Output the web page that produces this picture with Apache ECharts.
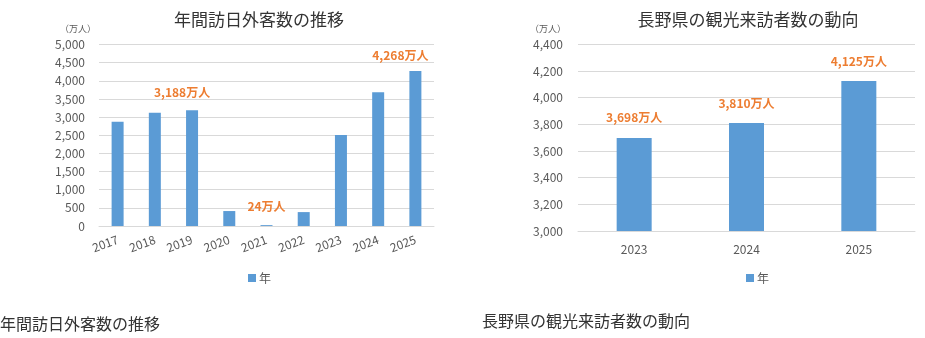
<!DOCTYPE html>
<html>
<head>
<meta charset="utf-8">
<script src="https://cdn.jsdelivr.net/npm/echarts@6/dist/echarts.min.js"></script>
<style>
  html, body { margin: 0; padding: 0; background: #fff; }
  #chart { width: 925px; height: 338px; }
</style>
</head>
<body>
<div id="chart"></div>
<script>
// 年間訪日外客数（万人）
const inboundYears = ['2017', '2018', '2019', '2020', '2021', '2022', '2023', '2024', '2025'];
const inboundValues = [2869, 3119, 3188, 412, 24, 383, 2507, 3687, 4268];
// 値ラベルを表示する年と、ラベルの位置調整 [x, y]
const inboundLabelled = { '2019': [-10, -4], '2021': [0, -5], '2025': [-15, -2] };

// 長野県の観光来訪者数（万人）
const naganoYears = ['2023', '2024', '2025'];
const naganoValues = [3698, 3810, 4125];

const FONT = '"Noto Sans CJK JP", "Noto Sans", sans-serif';
const BAR = '#5B9BD5';
const ORANGE = '#ED7D31';
const GRID = '#D9D9D9';
const AXIS_TEXT = '#595959';

const comma = v => String(v).replace(/\B(?=(\d{3})+(?!\d))/g, ',');
const manLabel = p => comma(p.value) + '万人';

const valueLabelStyle = {
  color: ORANGE, fontFamily: FONT, fontSize: 12, fontWeight: 'bold'
};

const inboundData = inboundYears.map((y, i) => {
  const off = inboundLabelled[y];
  if (!off) return { value: inboundValues[i] };
  return {
    value: inboundValues[i],
    label: Object.assign({
      show: true, position: 'top', distance: 8, offset: off, formatter: manLabel
    }, valueLabelStyle)
  };
});

const chart = echarts.init(document.getElementById('chart'), null, { renderer: 'canvas' });

const yLabel = { color: AXIS_TEXT, fontFamily: FONT, fontSize: 12, formatter: v => comma(v) };

chart.setOption({
  animation: false,
  backgroundColor: '#fff',
  title: [
    { text: '年間訪日外客数の推移', left: 254, top: 6, textAlign: 'center',
      textStyle: { fontFamily: FONT, fontSize: 17, fontWeight: 'normal', color: '#333' } },
    { text: '長野県の観光来訪者数の動向', left: 743, top: 6, textAlign: 'center',
      textStyle: { fontFamily: FONT, fontSize: 17, fontWeight: 'normal', color: '#333' } }
  ],
  legend: [
    { data: ['年'], left: 243, top: 267, itemWidth: 8, itemHeight: 8, itemGap: 4,
      icon: 'rect', textStyle: { fontFamily: FONT, fontSize: 12, color: AXIS_TEXT, padding: [0, 0, 0, -2] } },
    { data: ['年'], left: 741, top: 267, itemWidth: 8, itemHeight: 8, itemGap: 4,
      icon: 'rect', textStyle: { fontFamily: FONT, fontSize: 12, color: AXIS_TEXT, padding: [0, 0, 0, -2] } }
  ],
  grid: [
    { left: 99, right: 491, top: 44.5, bottom: 112 },
    { left: 578, right: 10, top: 44.3, bottom: 107 }
  ],
  xAxis: [
    { type: 'category', gridIndex: 0, data: inboundYears,
      axisLine: { lineStyle: { color: GRID } }, axisTick: { show: false },
      axisLabel: { color: AXIS_TEXT, fontFamily: FONT, fontSize: 12, rotate: 20, margin: 13, interval: 0 } },
    { type: 'category', gridIndex: 1, data: naganoYears,
      axisLine: { lineStyle: { color: GRID } }, axisTick: { show: false },
      axisLabel: { color: AXIS_TEXT, fontFamily: FONT, fontSize: 12, margin: 12 } }
  ],
  yAxis: [
    { type: 'value', gridIndex: 0, min: 0, max: 5000, interval: 500,
      axisLine: { show: false }, axisTick: { show: false },
      splitLine: { lineStyle: { color: GRID } },
      axisLabel: Object.assign({ margin: 14 }, yLabel) },
    { type: 'value', gridIndex: 1, min: 3000, max: 4400, interval: 200,
      axisLine: { show: false }, axisTick: { show: false },
      splitLine: { lineStyle: { color: GRID } },
      axisLabel: Object.assign({ margin: 15 }, yLabel) }
  ],
  series: [
    { name: '年', type: 'bar', xAxisIndex: 0, yAxisIndex: 0, data: inboundData,
      barWidth: 12, itemStyle: { color: BAR } },
    { name: '年', type: 'bar', xAxisIndex: 1, yAxisIndex: 1, data: naganoValues,
      barWidth: 35, itemStyle: { color: BAR },
      label: Object.assign({ show: true, position: 'top', distance: 14, formatter: manLabel }, valueLabelStyle) }
  ],
  graphic: [
    { type: 'text', left: 60, top: 24,
      style: { text: '（万人）', fontFamily: FONT, fontSize: 9, fill: AXIS_TEXT } },
    { type: 'text', left: 530, top: 24,
      style: { text: '（万人）', fontFamily: FONT, fontSize: 9, fill: AXIS_TEXT } },
    { type: 'text', left: 0, top: 316,
      style: { text: '年間訪日外客数の推移', fontFamily: FONT, fontSize: 16, fill: '#333' } },
    { type: 'text', left: 482, top: 313,
      style: { text: '長野県の観光来訪者数の動向', fontFamily: FONT, fontSize: 16, fill: '#333' } }
  ]
});
</script>
</body>
</html>
